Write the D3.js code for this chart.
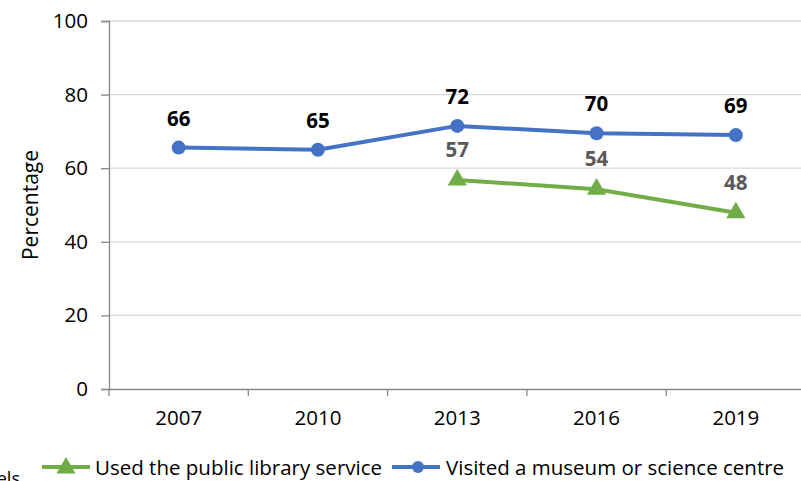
<!DOCTYPE html>
<html><head><meta charset="utf-8">
<script src="https://cdn.jsdelivr.net/npm/d3@7"></script>
<style>
body{margin:0;background:#fff;}
svg{display:block;font-family:"Open Sans",Calibri,sans-serif;}
</style></head>
<body><svg id="c" width="801" height="481"></svg>
<script>
const years = ["2007","2010","2013","2016","2019"];
const museum = [65.6, 65.0, 71.5, 69.5, 69.0];
const museumLabels = ["66","65","72","70","69"];
const library = [null, null, 56.8, 54.3, 47.9];
const libraryLabels = ["", "", "57", "54", "48"];
const yTicks = [0,20,40,60,80,100];
const seriesNames = ["Used the public library service","Visited a museum or science centre"];

const svg = d3.select("#c");
const x = d3.scaleBand().domain(years).range([109, 805.5]);
const y = d3.scaleLinear().domain([0,100]).range([389, 21]);
const FS = "20.5px";

// gridlines
svg.append("g").selectAll("line").data(yTicks.filter(d=>d>0)).join("line")
  .attr("x1",109).attr("x2",801).attr("y1",d=>y(d)).attr("y2",d=>y(d))
  .attr("stroke","#d9d9d9").attr("stroke-width",1.3);

// y axis
const ya = svg.append("g").attr("transform","translate(109,0)")
  .call(d3.axisLeft(y).tickValues(yTicks).tickSize(8).tickPadding(13));
ya.select(".domain").attr("stroke","#868686").attr("stroke-width",1.3);
ya.selectAll(".tick line").attr("stroke","#868686").attr("stroke-width",1.3);
ya.selectAll("text").attr("font-size",FS).attr("fill","#000").attr("font-family","'Open Sans',sans-serif");

// x axis
const xa = svg.append("g").attr("transform","translate(0,389)")
  .call(d3.axisBottom(x).tickSize(0).tickPadding(21));
xa.select(".domain").attr("stroke","#868686").attr("stroke-width",1.3);
xa.selectAll("text").attr("font-size",FS).attr("fill","#000").attr("font-family","'Open Sans',sans-serif");
const bounds = years.map((d,i)=>x(d)).concat([x.range()[1]]);
svg.append("g").selectAll("line").data(bounds).join("line")
  .attr("x1",d=>d).attr("x2",d=>d).attr("y1",389).attr("y2",396)
  .attr("stroke","#868686").attr("stroke-width",1.3);

// y title
svg.append("text").attr("transform","translate(38,205) rotate(-90)")
  .attr("text-anchor","middle").attr("font-size","21px").attr("fill","#000").text("Percentage");

const cx = d => x(d) + x.bandwidth()/2;
const blue = "#4472C4", green = "#70AD47";

// museum line
const mData = years.map((d,i)=>({x:d,v:museum[i],l:museumLabels[i]}));
svg.append("path").datum(mData)
  .attr("d", d3.line().x(d=>cx(d.x)).y(d=>y(d.v)))
  .attr("fill","none").attr("stroke",blue).attr("stroke-width",4).attr("stroke-linejoin","round");
svg.append("g").selectAll("circle").data(mData).join("circle")
  .attr("cx",d=>cx(d.x)).attr("cy",d=>y(d.v)).attr("r",7).attr("fill",blue);
svg.append("g").selectAll("text").data(mData).join("text")
  .attr("x",d=>cx(d.x)).attr("y",d=>y(d.v)-22).attr("text-anchor","middle")
  .attr("font-size",FS).attr("font-weight","bold").attr("fill","#000").text(d=>d.l);

// library line
const lData = years.map((d,i)=>({x:d,v:library[i],l:libraryLabels[i]})).filter(d=>d.v!==null);
svg.append("path").datum(lData)
  .attr("d", d3.line().x(d=>cx(d.x)).y(d=>y(d.v)))
  .attr("fill","none").attr("stroke",green).attr("stroke-width",4).attr("stroke-linejoin","round");
const tri = d3.symbol().type(d3.symbolTriangle).size(160);
svg.append("g").selectAll("path").data(lData).join("path")
  .attr("d",tri).attr("transform",d=>`translate(${cx(d.x)},${y(d.v)})`).attr("fill",green);
svg.append("g").selectAll("text").data(lData).join("text")
  .attr("x",d=>cx(d.x)).attr("y",d=>y(d.v)-23).attr("text-anchor","middle")
  .attr("font-size",FS).attr("font-weight","bold").attr("fill","#595959").text(d=>d.l);

// legend
svg.append("text").attr("x",20).attr("y",485).attr("text-anchor","end")
  .attr("font-size","18px").attr("fill","#000").text("els");
const lg = svg.append("g");
lg.append("line").attr("x1",42).attr("x2",90).attr("y1",467).attr("y2",467).attr("stroke",green).attr("stroke-width",4);
lg.append("path").attr("d",tri).attr("transform","translate(66,468)").attr("fill",green);
lg.append("text").attr("x",95).attr("y",475).attr("font-size",FS).attr("fill","#000").text(seriesNames[0]);
lg.append("line").attr("x1",392).attr("x2",440).attr("y1",467).attr("y2",467).attr("stroke",blue).attr("stroke-width",4);
lg.append("circle").attr("cx",418).attr("cy",467).attr("r",6).attr("fill",blue);
lg.append("text").attr("x",446).attr("y",475).attr("font-size",FS).attr("fill","#000").text(seriesNames[1]);
</script></body></html>
